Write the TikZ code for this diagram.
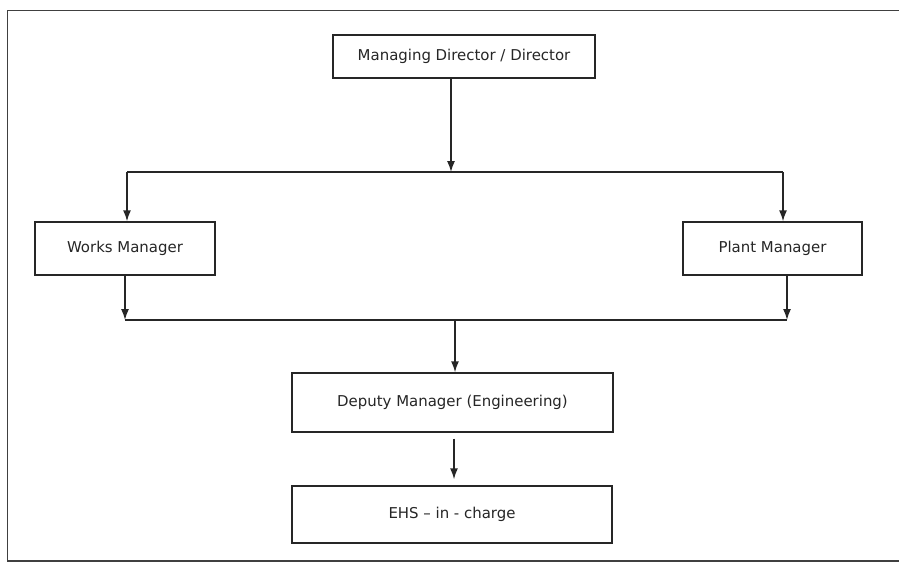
\documentclass[tikz,border=0pt]{standalone}
\usepackage{fontspec}
\setmainfont{DejaVu Sans}
\usetikzlibrary{positioning}
\usetikzlibrary{calc}
\usetikzlibrary{arrows.meta}
\tikzset{postbox/.style={draw=black!85, line width=0.8pt, fill=white, text=black!85, font=\fontsize{8.5}{10}\selectfont}}
\tikzset{flow/.style={line width=0.8pt, draw=black!85, -{Latex[length=2.2mm,width=1.6mm]}}}
\tikzset{bus/.style={line width=0.8pt, draw=black!85}}

\begin{document}
\begin{tikzpicture}
\useasboundingbox (0,0) rectangle (17.98,-11.36);
% outer frame, open on the right
\draw[line width=1.1pt, black!75] (17.98,-0.21) -- (0.15,-0.21) -- (0.15,-11.22) -- (17.98,-11.22);

\node[postbox, minimum width=5.24cm, minimum height=0.86cm] (md) at (9.28, -1.13) {Managing Director / Director};
\node[postbox, minimum width=3.6cm, minimum height=1.06cm] (works) at (2.5, -4.97) {Works Manager};
\node[postbox, minimum width=3.58cm, minimum height=1.06cm] (plant) at (15.45, -4.97) {Plant Manager};
\node[postbox, minimum width=6.42cm, minimum height=1.18cm] (deputy) at (9.05, -8.05) {Deputy Manager (Engineering)};
\node[postbox, minimum width=6.4cm, minimum height=1.14cm] (ehs) at (9.04, -10.29) {EHS -- in - charge};

\coordinate (topL) at (2.54, -3.44);
\coordinate (topM) at (9.02, -3.44);
\coordinate (topR) at (15.66, -3.44);
\coordinate (lowL) at (2.5, -6.4);
\coordinate (lowM) at (9.1, -6.4);
\coordinate (lowR) at (15.74, -6.4);

% director down to the two managers
\draw[flow] (md.south -| topM) -- (topM);
\draw[bus] (topL) -- (topR);
\draw[flow] (topL) -- (topL |- works.north);
\draw[flow] (topR) -- (topR |- plant.north);

% managers down to the deputy
\draw[flow] (works.south -| lowL) -- (lowL);
\draw[flow] (plant.south -| lowR) -- (lowR);
\draw[bus] (lowL) -- (lowR);
\draw[flow] (lowM) -- (lowM |- deputy.north);

\draw[flow, shorten <=1.2mm, shorten >=1.2mm] (deputy.south -| ehs.north) ++(0.04,0) -- ($(ehs.north)+(0.04,0)$);

\end{tikzpicture}
\end{document}
